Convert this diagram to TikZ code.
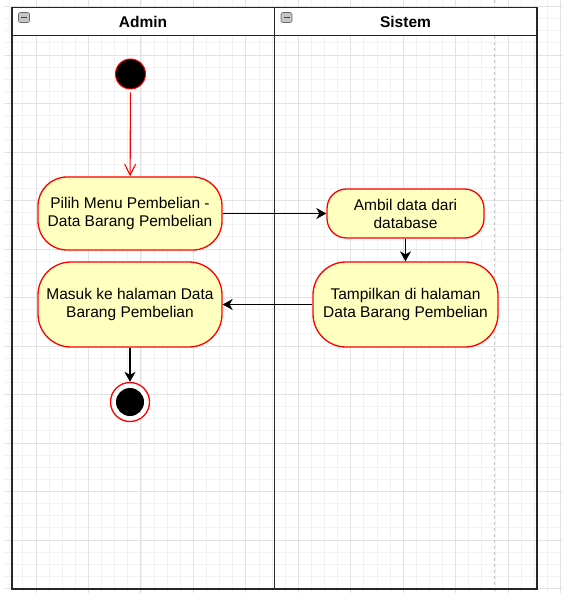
\documentclass[tikz,border=0pt]{standalone}
\usepackage{fontspec}
\setmainfont{Liberation Sans}
\usetikzlibrary{arrows.meta,positioning}
\definecolor{actfill}{HTML}{FFFFC0}
\definecolor{actline}{HTML}{FF0000}
\definecolor{gridminor}{HTML}{F2F2F2}
\definecolor{gridmajor}{HTML}{E2E2E2}

\begin{document}
\begin{tikzpicture}[x=1pt, y=-1pt,
    lane/.style = {draw=black!85, line width=1.5pt},
    activity/.style = {draw=actline, fill=actfill, line width=1.3pt, align=center, inner sep=0pt,
      font=\fontsize{15.5}{18}\selectfont},
    flow/.style = {draw=black, line width=1.3pt, -{Stealth[length=10pt, width=11pt, inset=3pt]}},
    startflow/.style = {draw=actline, line width=1.1pt, -{Straight Barb[length=11pt, width=11pt]}},
    lanetitle/.style = {font=\fontsize{15.5}{18}\selectfont\bfseries},
    collapse/.style = {draw=gray!80!black, fill=gray!45, rounded corners=2pt, line width=0.6pt}
  ]
  \useasboundingbox (0,0) rectangle (563,593);

  % background grid
  \foreach \i in {-2,...,40}
    \draw[gridminor, line width=0.8pt] ({36+\i*13.1125},0) -- ++(0,593);
  \foreach \j in {0,...,48}
    \draw[gridminor, line width=0.8pt] (4,{6.5+\j*12.125}) -- (563,{6.5+\j*12.125});
  \foreach \i in {0,...,10}
    \draw[gridmajor, line width=0.9pt] ({36+\i*52.45},0) -- ++(0,593);
  \foreach \j in {0,...,12}
    \draw[gridmajor, line width=0.9pt] (4,{6.5+\j*48.5}) -- (563,{6.5+\j*48.5});
  \draw[gray!45, line width=1pt, dash pattern=on 3pt off 3pt] (494,0) -- (494,593);

  % swimlanes
  \draw[lane] (12,7.5) rectangle (537,589);
  \draw[lane, fill=white] (12,7.5) rectangle (537,35.5);
  \draw[lane] (274.5,7.5) -- (274.5,589);
  \node[lanetitle] (admin) at (143,21.5) {Admin};
  \node[lanetitle] (sistem) at (405.5,21.5) {Sistem};
  \foreach \cx in {24,286.5} {
    \draw[collapse] (\cx-5.5,12.5) rectangle (\cx+5.5,22.5);
    \draw[black!75, line width=1.4pt] (\cx-3,17.5) -- (\cx+3,17.5);
  }

  % activities
  \node[circle, draw=actline, fill=black, line width=1pt, minimum size=30pt, inner sep=0pt] (start) at (130.5,74) {};
  \node[activity, rounded corners=29pt, minimum width=184pt, minimum height=73pt] (pilih) at (130,213.5)
    {Pilih Menu Pembelian -\\Data Barang Pembelian};
  \node[activity, rounded corners=19.5pt, minimum width=157pt, minimum height=49pt] (ambil) at (405.5,213.5)
    {Ambil data dari\\database};
  \node[activity, rounded corners=33pt, minimum width=185pt, minimum height=85pt] (tampil) at (405.5,304.5)
    {Tampilkan di halaman\\Data Barang Pembelian};
  \node[activity, rounded corners=33pt, minimum width=184pt, minimum height=85pt] (masuk) at (130,304.5)
    {Masuk ke halaman Data\\Barang Pembelian};
  \node[circle, draw=actline, fill=white, line width=1.3pt, minimum size=39pt, inner sep=0pt] (end) at (130,402) {};
  \node[circle, fill=black, minimum size=28pt, inner sep=0pt] (endcore) at (end) {};

  % transitions
  \draw[startflow, shorten <=3pt] (start) -- (pilih);
  \draw[flow] (pilih) -- (ambil);
  \draw[flow] (ambil) -- (tampil);
  \draw[flow] (tampil) -- (masuk);
  \draw[flow] (masuk) -- (end);
\end{tikzpicture}
\end{document}
